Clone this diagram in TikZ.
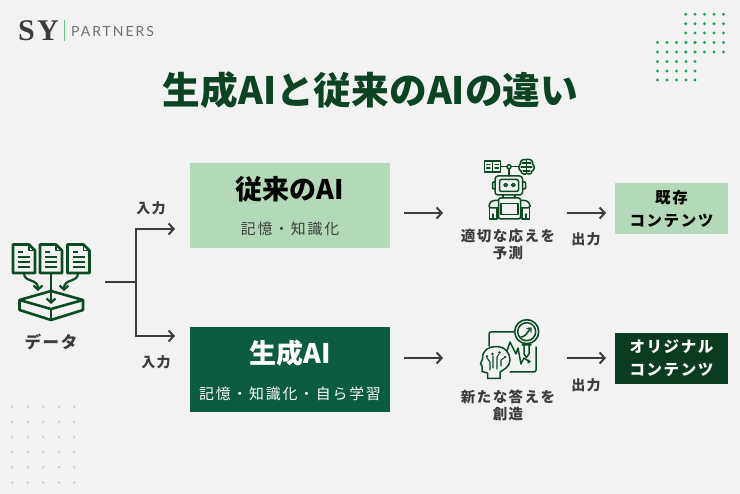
\documentclass[tikz,border=0pt]{standalone}
\usepackage{fontspec}
\setmainfont{Noto Sans CJK JP}
\newfontfamily\jpspaced[LetterSpace=10]{Noto Sans CJK JP}
\newfontfamily\jpsub[LetterSpace=12]{Noto Sans CJK JP}
\newfontfamily\logoserif[LetterSpace=8]{Liberation Serif}
\newfontfamily\logosans[LetterSpace=14]{Lato}
\usetikzlibrary{arrows.meta}
\definecolor{bgc}{HTML}{F2F2F2}
\definecolor{titlec}{HTML}{0C4423}
\definecolor{lightbox}{HTML}{B3D9B8}
\definecolor{midbox}{HTML}{0B5B3E}
\definecolor{darkbox}{HTML}{0A3D1F}
\definecolor{inkc}{HTML}{3C3C3C}
\definecolor{iconc}{HTML}{0C4A22}
\definecolor{dotg}{HTML}{22A851}
\definecolor{dotgrey}{HTML}{CDCDCD}
\definecolor{logoline}{HTML}{5CC98A}
\definecolor{logogray}{HTML}{707070}
\tikzset{
  x=1pt,y=-1pt,
  flow/.style={draw=inkc,line width=2pt,-{Straight Barb[length=5pt,width=11pt,line width=2pt]}},
  trunk/.style={draw=inkc,line width=2pt},
  label/.style={text=inkc,font=\jpspaced\bfseries\fontsize{16.5}{18}\selectfont,inner sep=0pt,align=center},
  smalllabel/.style={label,font=\jpspaced\bfseries\fontsize{14}{16}\selectfont},
  twolabel/.style={label,font=\jpspaced\bfseries\fontsize{14.5}{17}\selectfont},
  hbox/.style={minimum width=200pt,minimum height=85pt,inner sep=0pt},
  obox/.style={minimum width=113pt,minimum height=51pt,inner sep=0pt,align=center,font=\jpspaced\bfseries\fontsize{15.5}{23}\selectfont},
  icon/.style={draw=iconc,line width=1.5pt,line join=round,line cap=round},
  iconbold/.style={draw=iconc,line width=2.6pt,line join=round},
}
\begin{document}
\begin{tikzpicture}
\useasboundingbox (0,0) rectangle (740,494);
\fill[bgc] (0,0) rectangle (740,494);
% logo
\node[anchor=west,inner sep=0pt,text=inkc,font=\logoserif\bfseries\fontsize{30}{30}\selectfont] (logosy) at (18,31) {SY};
\draw[logoline,line width=1pt] (64,20) -- (64,41);
\node[anchor=west,inner sep=0pt,text=logogray,font=\logosans\fontsize{14}{14}\selectfont] (logopt) at (71,31) {PARTNERS};
% dots
\foreach \y in {14.3,23.8,33,42.5,52} \foreach \x in {685.7,695,704.5,714,723.5} \fill[dotg] (\x,\y) circle (1.6pt);
\foreach \y in {42.5,52,61.5,71,80} \foreach \x in {657.5,667,676.5,686,695} \fill[dotg] (\x,\y) circle (1.6pt);
\foreach \y in {406.7,422,437,452,467.3,482.6} \foreach \x in {12.3,27.7,43.3,59,74.3} \fill[dotgrey] (\x,\y) circle (1.4pt);
% title
\node[text=titlec,inner sep=0pt,font=\bfseries\fontsize{37.7}{42}\selectfont] (title) at (370.5,90) {生成AIと従来のAIの違い};
% boxes
\node[hbox,fill=lightbox] (trad) at (290,205.5) {};
\node[text=black,font=\bfseries\fontsize{27}{30}\selectfont,inner sep=0pt] (tradt) at (290,189) {従来のAI};
\node[text=inkc,font=\jpsub\fontsize{14.9}{17}\selectfont,inner sep=0pt] (trads) at (290,229) {記憶・知識化};
\node[hbox,fill=midbox] (gen) at (290,369.5) {};
\node[text=white,font=\bfseries\fontsize{27}{30}\selectfont,inner sep=0pt] (gent) at (290,353) {生成AI};
\node[text=white,font=\jpsub\fontsize{14.9}{17}\selectfont,inner sep=0pt] (gens) at (290,394) {記憶・知識化・自ら学習};
\node[obox,fill=lightbox,text=black] (oldc) at (671.5,208.5) {既存\\コンテンツ};
\node[obox,fill=darkbox,text=white] (origc) at (671.5,358.5) {オリジナル\\コンテンツ};
% labels
\node[label] (datal) at (51,342) {データ};
\node[smalllabel] (in1) at (151,208) {入力};
\node[smalllabel] (in2) at (156,362) {入力};
\node[smalllabel] (out1) at (586,239) {出力};
\node[smalllabel] (out2) at (586,385) {出力};
\node[twolabel] (pred) at (508,244.5) {適切な応えを\\予測};
\node[twolabel] (crea) at (508,405.5) {新たな答えを\\創造};
% connectors
\coordinate (dataout) at (105,282);
\coordinate (branch) at (136,282);
\coordinate (t1) at (136,229);
\coordinate (t2) at (136,336);
\coordinate (h1) at (175,229);
\coordinate (h2) at (175,336);
\draw[trunk] (dataout) -- (branch);
\draw[trunk,line cap=butt] (136,228) -- (136,337);
\draw[flow] (t1) -- (h1);
\draw[flow] (t2) -- (h2);
\coordinate (a1s) at (404,213);\coordinate (a1e) at (443,213);
\coordinate (a2s) at (404,358);\coordinate (a2e) at (443,358);
\coordinate (a3s) at (567,213);\coordinate (a3e) at (606,213);
\coordinate (a4s) at (567,358);\coordinate (a4e) at (606,358);
\draw[flow] (a1s) -- (a1e);
\draw[flow] (a2s) -- (a2e);
\draw[flow] (a3s) -- (a3e);
\draw[flow] (a4s) -- (a4e);
% data icon: documents
\foreach \dx in {0,27,54.5}{
  \begin{scope}[xshift=\dx pt]
    \draw[iconbold] (13,244.5) -- (29,244.5) -- (35,250.5) -- (35,273) -- (13,273) -- cycle;
    \draw[iconbold,line width=1.4pt] (29,244.5) -- (29,250.5) -- (35,250.5);
    \draw[iconbold,line width=2.1pt] (18,252) -- (23,252) (18,257) -- (30,257) (18,262) -- (30,262) (18,267) -- (30,267);
  \end{scope}}
% data icon: arrows and tray
\draw[iconbold] (19.5,300) -- (51,291) -- (83,300) -- (51,309) -- cycle;
\draw[iconbold] (19.5,300) -- (19.5,310) -- (51,320) -- (83,310) -- (83,300);
\draw[iconbold] (51,309) -- (51,320);
\draw[iconbold,line width=2.2pt,-{Straight Barb[length=4pt,width=9pt,line width=2.2pt]}] (51,273) -- (51,304);
\draw[iconbold,line width=2.2pt,-{Straight Barb[length=4pt,width=9pt,line width=2.2pt]}] (24,273) .. controls (24,283) and (38,278) .. (38,291);
\draw[iconbold,line width=2.2pt,-{Straight Barb[length=4pt,width=9pt,line width=2.2pt]}] (78,273) .. controls (78,283) and (64,278) .. (64,291);
% robot icon
\draw[icon] (484.5,161) rectangle (500.5,172);
\draw[icon,line width=1.1pt] (492.5,161) -- (492.5,172) (486.5,164.5) -- (490,164.5) (486.5,168) -- (490,168) (495,164.5) -- (498.5,164.5) (495,168) -- (498.5,168);
\draw[icon] (500.5,166.7) -- (519.5,166.7) (509,166.7) -- (509,176);
\fill[bgc] (509,166.7) circle (2pt); \draw[icon] (509,166.7) circle (2pt);
\draw[icon] (526.5,159.5) .. controls (521,158.5) and (519.5,163) .. (520.5,164) .. controls (518,166) and (518.5,170) .. (521,171) .. controls (521,174) and (525,175) .. (526.5,173.5) .. controls (528.5,175) and (532,174) .. (532,171) .. controls (535,170) and (535,166) .. (532.5,164) .. controls (534,161) and (530,158.5) .. (526.5,159.5) -- cycle;
\draw[icon,line width=1.1pt] (526.5,159.5) -- (526.5,173.5) (526.5,163) -- (522,163) (526.5,167) -- (521,167) (526.5,171) -- (523,171) (526.5,163) -- (531,163) (526.5,167) -- (532,167) (526.5,171) -- (530,171);
\draw[icon,rounded corners=3pt] (495,176) rectangle (522.5,195);
\draw[icon,rounded corners=2pt] (499.5,179.5) rectangle (518.5,191.5);
\draw[icon] (505.7,185) circle (1.7pt) (513.3,185) circle (1.7pt);
\draw[icon,rounded corners=1pt] (495,182) -- (492.5,182) -- (492.5,189) -- (495,189) (522.5,182) -- (525.5,182) -- (525.5,189) -- (522.5,189);
\draw[icon] (503,195) -- (503,198) (515,195) -- (515,198);
\draw[icon,rounded corners=2pt] (498.5,198) rectangle (520.5,219);
\draw[icon] (501,203.5) rectangle (518,214.5);
\draw[icon,rounded corners=2.5pt] (498.5,200.5) -- (492,200.5) -- (489,204) -- (489,208) -- (498.5,208);
\draw[icon,rounded corners=2.5pt] (520.5,200.5) -- (527,200.5) -- (530,204) -- (530,208) -- (520.5,208);
\draw[icon] (489.5,208) -- (489.5,219) -- (497,219) -- (497,208) (493,214) -- (493,219);
\draw[icon] (522,208) -- (522,219) -- (529.5,219) -- (529.5,208) (526,214) -- (526,219);
% insight icon
\draw[icon,rounded corners=2pt] (516,332) -- (489,332) -- (489,346) (536,347) -- (536,372) -- (510,372);
\draw[icon] (505,357) -- (510,342) -- (516,354) -- (518,348) -- (521,364) -- (524,358) -- (529,361.5);
\fill[iconc] (531,361.5) -- (527.5,359) -- (527.5,364) -- cycle;
\draw[icon,fill=bgc,line width=1.6pt] (526.7,331.7) circle (12pt);
\draw[icon] (526.7,331.7) circle (9pt);
\draw[icon] (522,345) -- (531,345) (524,345) -- (524,354) -- (526.5,357.5) -- (529,354) -- (529,345);
\draw[icon] (521,337) .. controls (525,337) and (527,333) .. (530,329);
\draw[icon,line width=1.2pt] (527,328.5) -- (531,328) -- (531,332);
\draw[icon,fill=bgc] (500,378.5) -- (487.5,378.5) -- (487.5,373) -- (482,371.5) -- (482,366) -- (480.5,364) -- (482.5,359) .. controls (482,350) and (489,346.5) .. (496,346.5) .. controls (505,346.5) and (510,353) .. (510,360) .. controls (510,367) and (503,370) .. (500,372) -- cycle;
\draw[icon,line width=1.1pt] (493,368) -- (493,356) (490,370) -- (490,362) -- (487,358) (497,369) -- (497,357) -- (499,354) (501,366) -- (501,360) -- (504,358);
\fill[iconc] (492.5,354) circle (1.3pt) (487,356.5) circle (1.3pt) (499.5,352.5) circle (1.3pt) (505,357) circle (1.3pt);
\end{tikzpicture}
\end{document}
